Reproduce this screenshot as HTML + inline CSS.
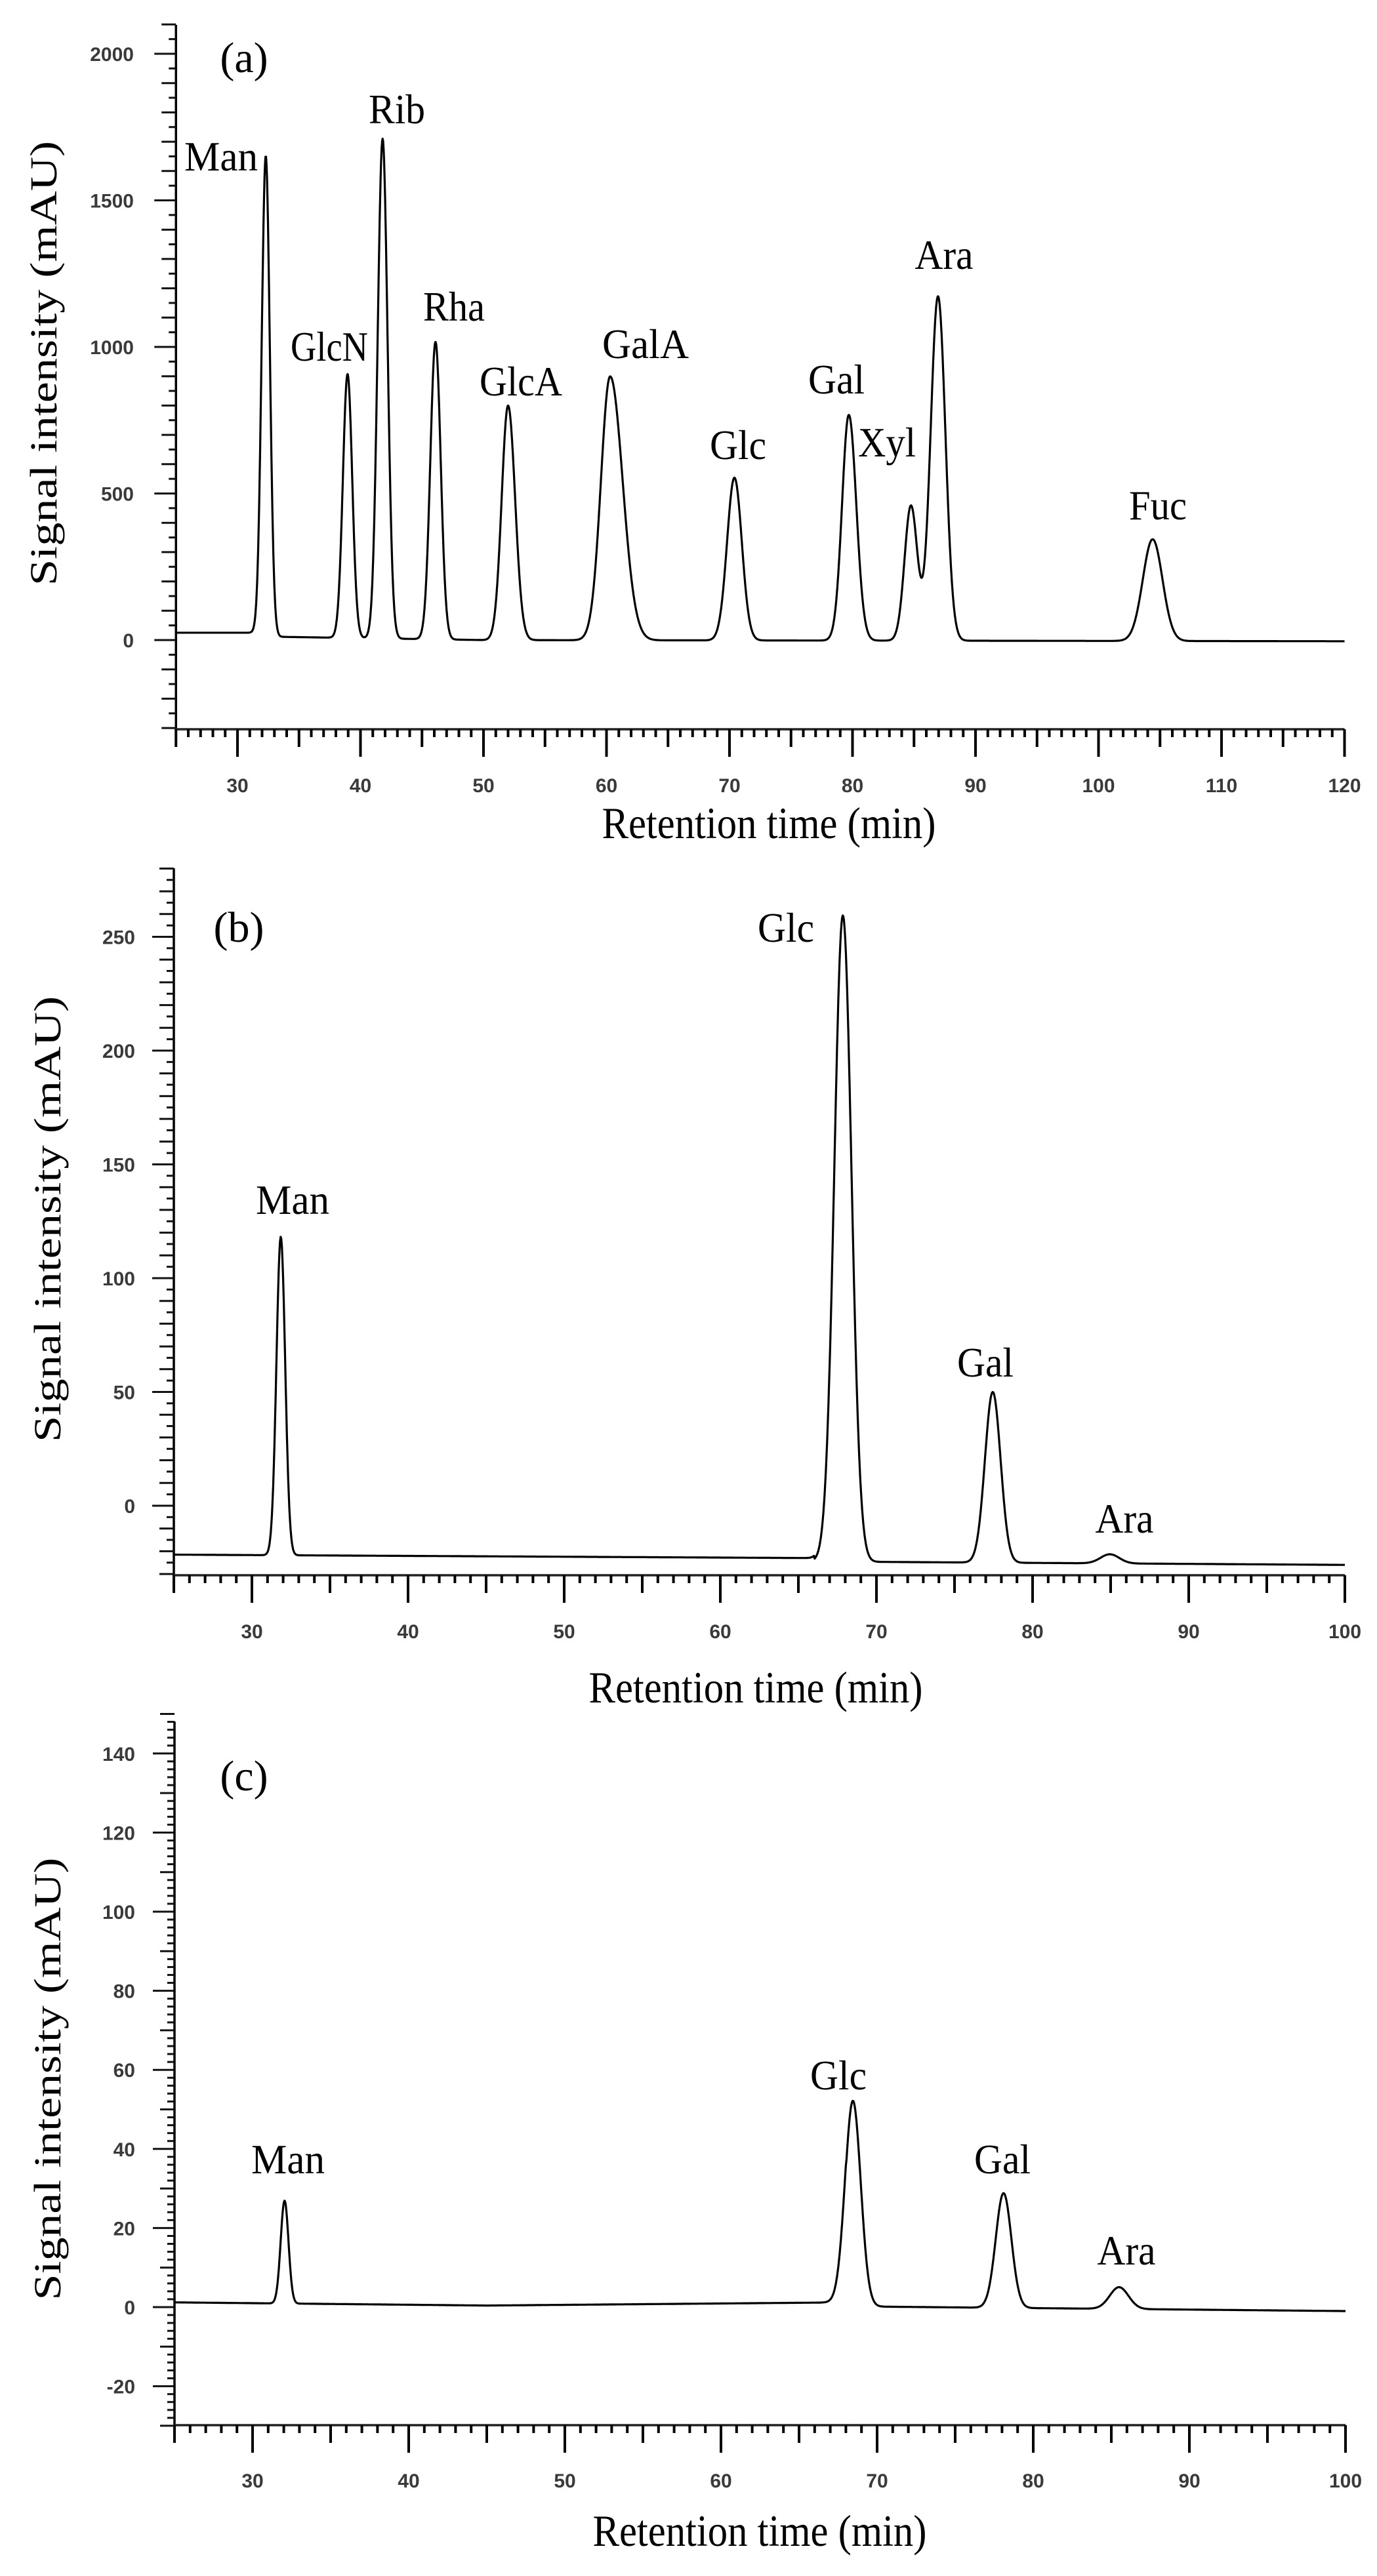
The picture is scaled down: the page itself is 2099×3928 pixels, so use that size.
<!DOCTYPE html>
<html><head><meta charset="utf-8">
<style>
html,body{margin:0;padding:0;background:#fff;}
svg{display:block;}
.t{font-family:"Liberation Serif",serif;fill:#000;}
.k{font-family:"Liberation Sans",sans-serif;font-weight:bold;fill:#3a3a3a;font-size:30px;}
</style></head>
<body>
<svg id="s" width="2099" height="3928" viewBox="0 0 2099 3928" xmlns="http://www.w3.org/2000/svg">
<rect width="2099" height="3928" fill="#fff"/>
<g id="g"></g>
<!-- Panel a labels -->
<text class="t" x="372" y="110" font-size="66" text-anchor="middle">(a)</text>
<text class="t" x="337" y="260" font-size="64" text-anchor="middle" textLength="112" lengthAdjust="spacingAndGlyphs">Man</text>
<text class="t" x="605" y="188" font-size="64" text-anchor="middle" textLength="86" lengthAdjust="spacingAndGlyphs">Rib</text>
<text class="t" x="502" y="550" font-size="64" text-anchor="middle" textLength="118" lengthAdjust="spacingAndGlyphs">GlcN</text>
<text class="t" x="692" y="489" font-size="64" text-anchor="middle" textLength="94" lengthAdjust="spacingAndGlyphs">Rha</text>
<text class="t" x="794" y="603" font-size="64" text-anchor="middle" textLength="126" lengthAdjust="spacingAndGlyphs">GlcA</text>
<text class="t" x="984" y="546" font-size="64" text-anchor="middle" textLength="132" lengthAdjust="spacingAndGlyphs">GalA</text>
<text class="t" x="1125" y="700" font-size="64" text-anchor="middle" textLength="86" lengthAdjust="spacingAndGlyphs">Glc</text>
<text class="t" x="1275" y="600" font-size="64" text-anchor="middle" textLength="86" lengthAdjust="spacingAndGlyphs">Gal</text>
<text class="t" x="1352" y="696" font-size="64" text-anchor="middle" textLength="88" lengthAdjust="spacingAndGlyphs">Xyl</text>
<text class="t" x="1439" y="410" font-size="64" text-anchor="middle" textLength="89" lengthAdjust="spacingAndGlyphs">Ara</text>
<text class="t" x="1765" y="792" font-size="64" text-anchor="middle" textLength="88" lengthAdjust="spacingAndGlyphs">Fuc</text>
<text class="t" x="1172" y="1278" font-size="68" text-anchor="middle" textLength="509" lengthAdjust="spacingAndGlyphs">Retention time (min)</text>
<text class="t" font-size="58" text-anchor="middle" transform="translate(86,554) rotate(-90)" textLength="678" lengthAdjust="spacingAndGlyphs">Signal intensity (mAU)</text>
<!-- Panel b labels -->
<text class="t" x="364" y="1436" font-size="66" text-anchor="middle">(b)</text>
<text class="t" x="446" y="1851" font-size="64" text-anchor="middle" textLength="112" lengthAdjust="spacingAndGlyphs">Man</text>
<text class="t" x="1198" y="1436" font-size="64" text-anchor="middle" textLength="86" lengthAdjust="spacingAndGlyphs">Glc</text>
<text class="t" x="1502" y="2099" font-size="64" text-anchor="middle" textLength="86" lengthAdjust="spacingAndGlyphs">Gal</text>
<text class="t" x="1714" y="2337" font-size="64" text-anchor="middle" textLength="89" lengthAdjust="spacingAndGlyphs">Ara</text>
<text class="t" x="1152" y="2596" font-size="68" text-anchor="middle" textLength="509" lengthAdjust="spacingAndGlyphs">Retention time (min)</text>
<text class="t" font-size="58" text-anchor="middle" transform="translate(92,1859) rotate(-90)" textLength="680" lengthAdjust="spacingAndGlyphs">Signal intensity (mAU)</text>
<!-- Panel c labels -->
<text class="t" x="372" y="2730" font-size="66" text-anchor="middle">(c)</text>
<text class="t" x="439" y="3314" font-size="64" text-anchor="middle" textLength="112" lengthAdjust="spacingAndGlyphs">Man</text>
<text class="t" x="1278" y="3186" font-size="64" text-anchor="middle" textLength="86" lengthAdjust="spacingAndGlyphs">Glc</text>
<text class="t" x="1528" y="3314" font-size="64" text-anchor="middle" textLength="86" lengthAdjust="spacingAndGlyphs">Gal</text>
<text class="t" x="1717" y="3453" font-size="64" text-anchor="middle" textLength="89" lengthAdjust="spacingAndGlyphs">Ara</text>
<text class="t" x="1158" y="3882" font-size="68" text-anchor="middle" textLength="509" lengthAdjust="spacingAndGlyphs">Retention time (min)</text>
<text class="t" font-size="58" text-anchor="middle" transform="translate(92,3170) rotate(-90)" textLength="675" lengthAdjust="spacingAndGlyphs">Signal intensity (mAU)</text>
</svg>
<script>
(function(){
var g=document.getElementById('g');var NS='http://www.w3.org/2000/svg';
function el(n,a,txt){var e=document.createElementNS(NS,n);for(var k in a)e.setAttribute(k,a[k]);if(txt!==undefined)e.textContent=txt;g.appendChild(e);return e;}
function gauss(t,p){var d=t-p[0];var s=p[2];if(p[3]&&d>0)s=s*p[3];return p[1]*Math.exp(-d*d/(2*s*s));}
function panel(P){
 var X=function(t){return P.x30+(t-30)*P.px10/10;};
 var Y=function(v){return P.y0-v*P.pyu;};
 var ax=X(25), axR=X(P.tmax), yb=P.ybot;
 // axes
 el('line',{x1:ax,y1:P.ytop,x2:ax,y2:yb,stroke:'#000','stroke-width':3.5});
 el('line',{x1:ax-2,y1:yb,x2:axR,y2:yb,stroke:'#222','stroke-width':3.5});
 // x ticks
 for(var t=25;t<=P.tmax+0.001;t++){
  var L=(t%10==0)?42:(t%5==0)?27:12;
  el('line',{x1:X(t),y1:yb,x2:X(t),y2:yb+L,stroke:'#000','stroke-width':4});
  if(t%10==0) el('text',{'class':'k',x:X(t),y:P.ylab,'text-anchor':'middle'},String(t));
 }
 // y ticks
 for(var v=P.vmin;v<=P.vmax+1e-6;v+=P.minor){
  var vv=Math.round(v*100)/100;
  var major=Math.abs(vv%P.major)<1e-6;
  var med=Math.abs(vv%P.med)<1e-6;
  var L=major?33:med?22:11;
  el('line',{x1:ax-L,y1:Y(vv),x2:ax,y2:Y(vv),stroke:'#111','stroke-width':3});
  if(major && vv>P.vmin) el('text',{'class':'k',x:P.labR,y:Y(vv)+11,'text-anchor':'end'},String(vv));
 }
 // curve
 var d='';
 for(var t=25;t<=P.tmax+1e-6;t+=0.04){
  var v=P.base(t);
  for(var i=0;i<P.peaks.length;i++)v+=gauss(t,P.peaks[i]);
  d+=(d?'L':'M')+X(t).toFixed(1)+' '+Y(v).toFixed(1);
 }
 el('path',{d:d,fill:'none',stroke:'#000','stroke-width':3.2,'stroke-linejoin':'round'});
}
panel({x30:362,px10:187.5,tmax:120,y0:976,pyu:0.447,ytop:38,ybot:1112,ylab:1208,labR:204,
 vmin:-300,vmax:2100,minor:50,med:100,major:500,
 base:function(t){ if(t<32) return 25; if(t<50) return 12-12*(t-32)/18; return -4*(t-50)/70;},
 peaks:[[32.3,1640,0.33],[38.95,900,0.38],[41.8,1705,0.40],[46.1,1015,0.42],[52.0,800,0.52,1.1],
        [60.3,900,0.75,1.35],[70.4,555,0.6],[79.7,770,0.55,1.1],[84.75,460,0.52],[86.95,1175,0.6],[104.4,347,0.8]]});
panel({x30:384,px10:238,tmax:100,y0:2296,pyu:3.47,ytop:1324,ybot:2402,ylab:2498,labR:206,
 vmin:-30,vmax:280,minor:5,med:10,major:50,
 base:function(t){ if(t<66) return -21.5-1.5*(t-25)/41; return -24.5-1.5*(t-66)/34;},
 peaks:[[31.85,140,0.28],[67.85,284,0.55],[77.45,75,0.5],[84.95,4,0.6]]});
panel({x30:385,px10:238,tmax:100,y0:3518,pyu:6.03,ytop:2625,ybot:3698,ylab:3793,labR:206,
 vmin:-30,vmax:150,minor:2,med:10,major:20,
 base:function(t){ if(t<45) return 1.2-0.8*(t-25)/20; if(t<68) return 0.4+0.8*(t-45)/23; return 0.2-1.2*(t-68)/32;},
 peaks:[[32.05,26,0.25],[68.45,52,0.5],[78.1,29,0.5],[85.5,5.5,0.6]]});
})();
</script>
</body></html>
